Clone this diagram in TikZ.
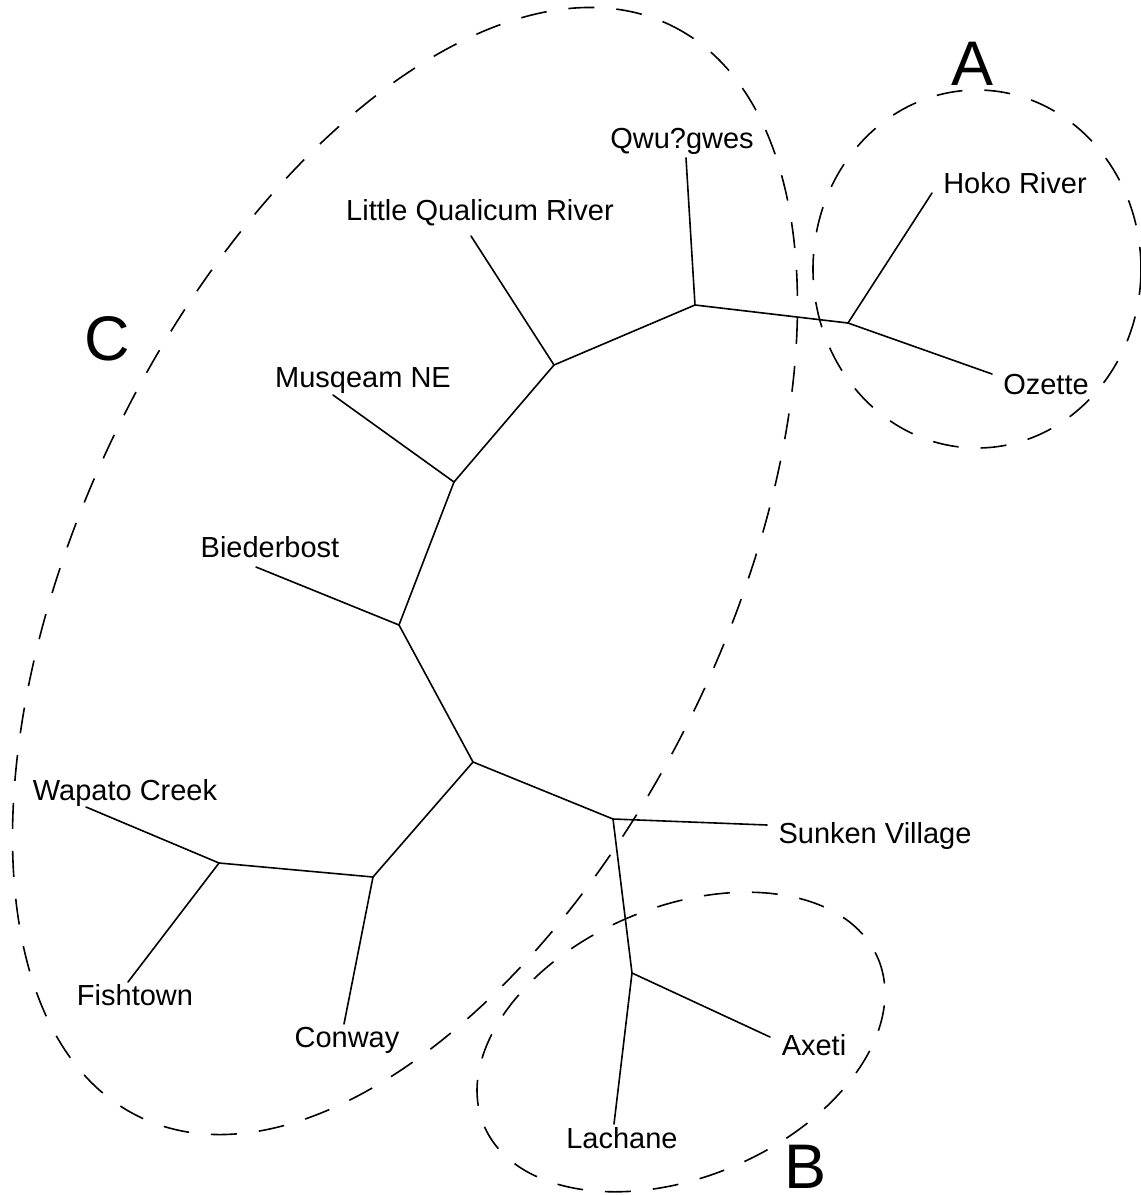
\documentclass[tikz,border=0pt]{standalone}
\usepackage{fontspec}
\setmainfont{Liberation Sans}
\begin{document}
\begin{tikzpicture}[x=1pt,y=-1pt,
  branch/.style={line width=1.6pt, line cap=round},
  group/.style={line width=1.6pt, dash pattern=on 26pt off 22pt},
  taxon/.style={anchor=base, inner sep=0pt, font=\fontsize{29}{34}\selectfont},
  grouplabel/.style={anchor=base, inner sep=0pt, font=\fontsize{63}{70}\selectfont}]
\useasboundingbox (0,0) rectangle (1141,1195);

% internal nodes of the tree
\coordinate (n1)  at (695,305);
\coordinate (n2)  at (848,323);
\coordinate (n3)  at (554,365);
\coordinate (n4)  at (454,482);
\coordinate (n5)  at (399,625);
\coordinate (n6)  at (473,762);
\coordinate (n7)  at (613,819);
\coordinate (n8)  at (219,863);
\coordinate (n9)  at (373,877);
\coordinate (n10) at (632,973);

% leaf tips
\coordinate (tQwu)  at (686,158);
\coordinate (tHoko) at (932,193);
\coordinate (tOze)  at (992,374);
\coordinate (tLqr)  at (471,236);
\coordinate (tMus)  at (333,395);
\coordinate (tBie)  at (256,567);
\coordinate (tWap)  at (86,807);
\coordinate (tFish) at (128,982);
\coordinate (tCon)  at (344,1024);
\coordinate (tSunk) at (767,825);
\coordinate (tAxe)  at (770,1037);
\coordinate (tLach) at (614,1124);

% branches
\draw[branch] (n1) -- (n2);
\draw[branch] (n1) -- (tQwu);
\draw[branch] (n1) -- (n3);
\draw[branch] (n2) -- (tHoko);
\draw[branch] (n2) -- (tOze);
\draw[branch] (n3) -- (tLqr);
\draw[branch] (n3) -- (n4);
\draw[branch] (n4) -- (tMus);
\draw[branch] (n4) -- (n5);
\draw[branch] (n5) -- (tBie);
\draw[branch] (n5) -- (n6);
\draw[branch] (n6) -- (n7);
\draw[branch] (n6) -- (n9);
\draw[branch] (n7) -- (tSunk);
\draw[branch] (n7) -- (n10);
\draw[branch] (n10) -- (tAxe);
\draw[branch] (n10) -- (tLach);
\draw[branch] (n9) -- (n8);
\draw[branch] (n9) -- (tCon);
\draw[branch] (n8) -- (tWap);
\draw[branch] (n8) -- (tFish);

% taxon labels
\node[taxon] (lQwu)  at (682,148)  {Qwu?gwes};
\node[taxon] (lHoko) at (1015,193) {Hoko River};
\node[taxon] (lOze)  at (1046,394) {Ozette};
\node[taxon] (lLqr)  at (480,220)  {Little Qualicum River};
\node[taxon] (lMus)  at (363,387)  {Musqeam NE};
\node[taxon] (lBie)  at (270,557)  {Biederbost};
\node[taxon] (lWap)  at (125,800)  {Wapato Creek};
\node[taxon] (lFish) at (135,1005) {Fishtown};
\node[taxon] (lCon)  at (347,1047) {Conway};
\node[taxon] (lSunk) at (875,843)  {Sunken Village};
\node[taxon] (lAxe)  at (814,1055) {Axeti};
\node[taxon] (lLach) at (622,1148) {Lachane};

% groups
\draw[group] (977,269) ellipse [x radius=164, y radius=179];
\draw[group, rotate around={23:(681,1042)}] (681,1042) ellipse [x radius=214, y radius=135];
\draw[group, rotate around={64:(405,571)}] (405,571) ellipse [x radius=607, y radius=321];

\node[grouplabel] (gA) at (973,85)   {A};
\node[grouplabel] (gB) at (806,1188) {B};
\node[grouplabel] (gC) at (107,360)  {C};
\end{tikzpicture}
\end{document}
